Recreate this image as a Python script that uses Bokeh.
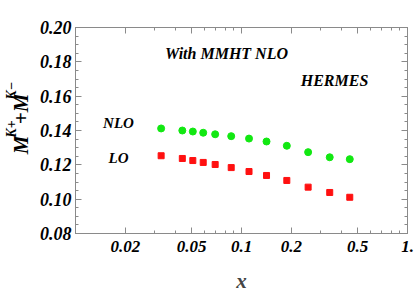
import math
from bokeh.plotting import figure
from bokeh.layouts import row
from bokeh.models import (FixedTicker, LogAxis, LinearAxis, Label, Range1d, CustomJSTickFormatter)
from bokeh.core.properties import value
from bokeh.embed import file_html
from bokeh.resources import INLINE

# data
x_vals = [0.0328, 0.0440, 0.0509, 0.0588, 0.0694, 0.0867, 0.111, 0.1415, 0.1875, 0.252, 0.340, 0.449]
nlo_vals = [0.1412, 0.1400, 0.1394, 0.1387, 0.1378, 0.1367, 0.1353, 0.1336, 0.1311, 0.1274, 0.1244, 0.1233]
lo_vals = [0.1253, 0.1237, 0.1225, 0.1214, 0.1202, 0.1184, 0.1161, 0.1138, 0.1109, 0.1070, 0.1039, 0.1011]
x_ticks = [0.02, 0.05, 0.1, 0.2, 0.5, 1.0]
x_tick_labels = ["0.02", "0.05", "0.1", "0.2", "0.5", "1."]
y_ticks = [0.08, 0.10, 0.12, 0.14, 0.16, 0.18, 0.20]
y_tick_labels = ["0.08", "0.10", "0.12", "0.14", "0.16", "0.18", "0.20"]

FONT = "Liberation Serif"
FRAME = "#8a8a8a"

x_minor = [0.01 * i for i in range(1, 10)] + [0.1 * i for i in range(1, 11)]
y_minor = [0.08 + 0.005 * i for i in range(0, 25)]

LW = 34  # width of the y-label strip

p = figure(width=415 - LW, height=292, x_axis_type="log",
           x_range=Range1d(0.01, 1.0), y_range=Range1d(0.08, 0.20),
           output_backend="svg", toolbar_location=None,
           min_border_left=75 - LW, min_border_right=8, min_border_top=27, min_border_bottom=59)
p.frame_width = 332
p.frame_height = 206
p.grid.visible = False
p.outline_line_color = FRAME
p.background_fill_color = "white"
p.border_fill_color = "white"


def style_axis(ax, show_labels):
    ax.axis_line_color = FRAME
    ax.major_tick_line_color = FRAME
    ax.minor_tick_line_color = FRAME
    ax.major_tick_in = 6
    ax.major_tick_out = 0
    ax.minor_tick_in = 3
    ax.minor_tick_out = 0
    if not show_labels:
        ax.formatter = CustomJSTickFormatter(code="return '';")
        ax.major_label_standoff = 0


xt = FixedTicker(ticks=x_ticks, minor_ticks=x_minor)
yt = FixedTicker(ticks=y_ticks, minor_ticks=y_minor)

xa = p.xaxis[0]
xa.ticker = xt
xa.major_label_overrides = {t: l for t, l in zip(x_ticks, x_tick_labels)}
style_axis(xa, True)
xa.major_label_text_font = FONT
xa.major_label_text_font_style = "bold italic"
xa.major_label_text_font_size = "17px"
xa.major_label_text_color = "black"
xa.major_label_standoff = 7
xa.axis_label = "x"
xa.axis_label_text_font = FONT
xa.axis_label_text_font_style = "bold italic"
xa.axis_label_text_font_size = "21px"
xa.axis_label_standoff = 14

ya = p.yaxis[0]
ya.ticker = yt
ya.major_label_overrides = {t: l for t, l in zip(y_ticks, y_tick_labels)}
style_axis(ya, True)
ya.major_label_text_font = FONT
ya.major_label_text_font_style = "bold italic"
ya.major_label_text_font_size = "18px"
ya.major_label_text_color = "black"
ya.major_label_standoff = 4

top = LogAxis(ticker=FixedTicker(ticks=x_ticks, minor_ticks=x_minor))
style_axis(top, False)
p.add_layout(top, "above")
right = LinearAxis(ticker=FixedTicker(ticks=y_ticks, minor_ticks=y_minor))
style_axis(right, False)
p.add_layout(right, "right")

p.scatter(x_vals, nlo_vals, marker="circle", size=7, color="#12e812")
p.scatter(x_vals, lo_vals, marker="square", size=6, color="#ff1010")

def lab(text, x, y, size, **kw):
    p.add_layout(Label(x=x, y=y, x_units="screen", y_units="screen", text=text,
                       text_font=FONT, text_font_style="bold italic",
                       text_font_size=size, text_color="black", **kw))

# in-plot texts (screen coords relative to frame: x from frame left, y from frame bottom)
lab("With MMHT NLO", 151, 180, "16px", text_align="center", text_baseline="middle")
lab("HERMES", 259, 153, "16px", text_align="center", text_baseline="middle")
lab("NLO", 43, 111, "15px", text_align="center", text_baseline="middle")
lab("LO", 43, 76, "15px", text_align="center", text_baseline="middle")

# y-axis title strip (pixel-like coordinates, origin bottom-left)
q = figure(width=LW, height=292, x_range=Range1d(0, LW), y_range=Range1d(0, 292),
           x_axis_location=None, y_axis_location=None,
           output_backend="svg", toolbar_location=None,
           min_border_left=0, min_border_right=0, min_border_top=0, min_border_bottom=0)
q.grid.visible = False
q.outline_line_color = None
q.border_fill_color = "white"

ang = math.pi / 2
q.text(x=[20, 20], y=[123, 175], text=["M", "+M"], angle=ang,
       text_font=value(FONT), text_font_style="bold italic", text_font_size="21px",
       text_baseline="middle", text_align="center", text_color="black")
q.text(x=[11, 11], y=[146, 201], text=["K+", "K\u2212"], angle=ang,
       text_font=value(FONT), text_font_style="bold italic", text_font_size="14px",
       text_baseline="middle", text_align="center", text_color="black")

layout = row(q, p, spacing=0)
open("out.html", "w").write(file_html(layout, INLINE))
